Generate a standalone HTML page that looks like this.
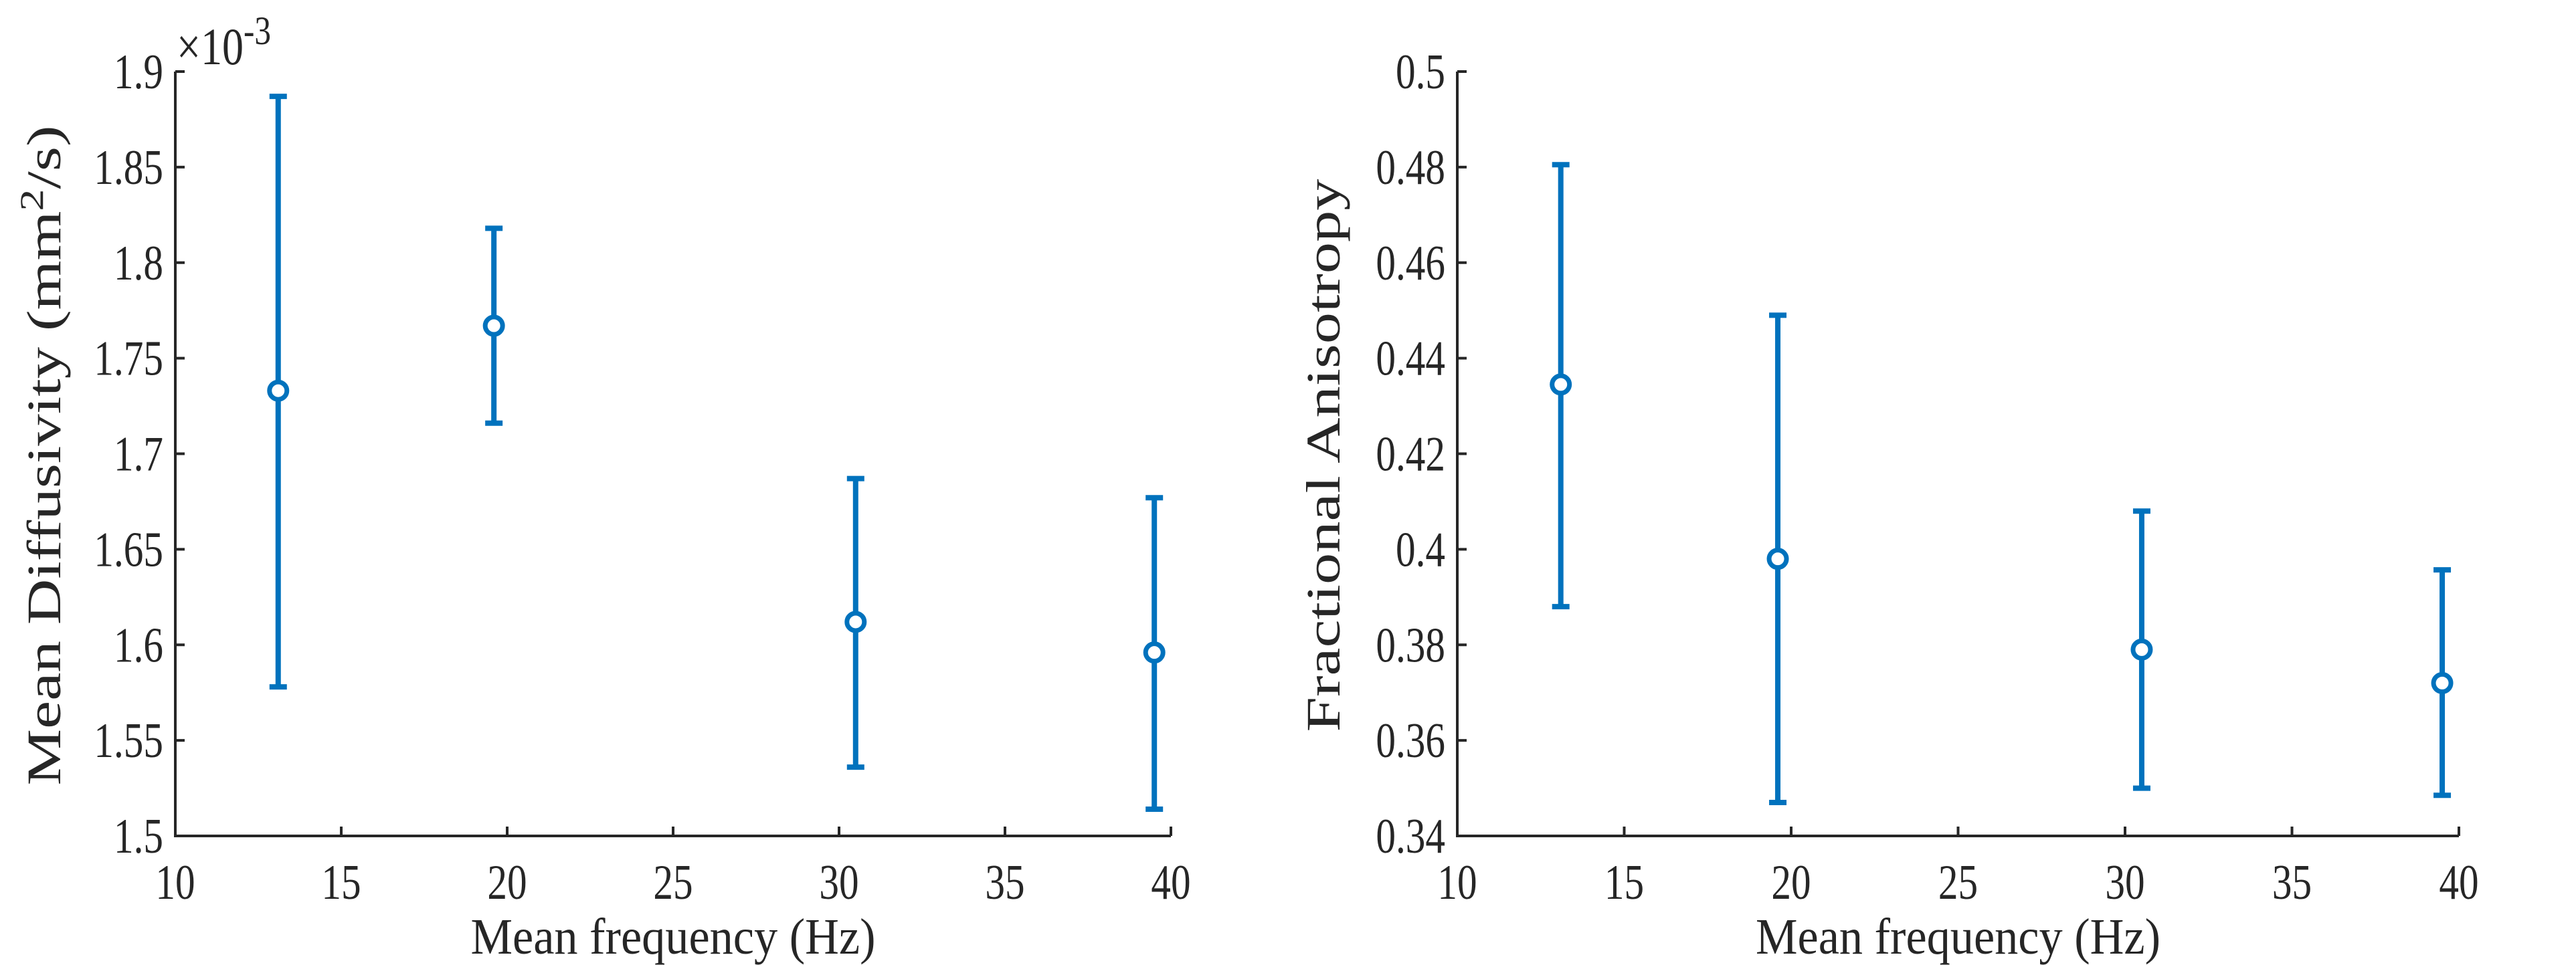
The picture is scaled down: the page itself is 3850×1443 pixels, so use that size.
<!DOCTYPE html>
<html><head><meta charset="utf-8"><style>
html,body{margin:0;padding:0;background:#fff;}
svg{display:block;font-family:"Liberation Serif",serif;}
</style></head><body>
<svg id="c" width="3850" height="1443" viewBox="0 0 3850 1443"></svg>
<script>
const freqs = [13.1, 19.6, 30.5, 39.5];
const mdMean = [1.733, 1.767, 1.612, 1.596];
const mdUpper = [1.887, 1.818, 1.687, 1.677];
const mdLower = [1.578, 1.716, 1.536, 1.514];
const faMean = [0.4345, 0.398, 0.379, 0.372];
const faUpper = [0.4805, 0.449, 0.408, 0.3957];
const faLower = [0.388, 0.347, 0.350, 0.3485];
const xTicks = [10, 15, 20, 25, 30, 35, 40];
const mdTicks = [1.5, 1.55, 1.6, 1.65, 1.7, 1.75, 1.8, 1.85, 1.9];
const mdTickLabels = ["1.5","1.55","1.6","1.65","1.7","1.75","1.8","1.85","1.9"];
const faTicks = [0.34, 0.36, 0.38, 0.4, 0.42, 0.44, 0.46, 0.48, 0.5];
const faTickLabels = ["0.34","0.36","0.38","0.4","0.42","0.44","0.46","0.48","0.5"];

const NS = "http://www.w3.org/2000/svg";
const svg = document.getElementById('c');
function mk(tag, attrs, parent){ const e=document.createElementNS(NS,tag); for(const k in attrs) e.setAttribute(k,attrs[k]); (parent||svg).appendChild(e); return e; }
const BLUE="#0072BD", AX="#262626";
const SX=0.8;

function panel(name, x0, x1, y0, y1, ymin, ymax, yT, yL, mean, up, lo, ylabel, ylabelX, ylabelLen){
  const g = mk('g',{});
  
  
  const sx = v => x0 + (v-10)/(40-10)*(x1-x0);
  const sy = v => y1 - (v-ymin)/(ymax-ymin)*(y1-y0);
  const ax = mk('path',{d:`M${x0},${y0} L${x0},${y1} L${x1},${y1}`, fill:'none', stroke:AX, 'stroke-width':4}, g);
  
  
  xTicks.forEach(t=>{
    mk('line',{x1:sx(t),x2:sx(t),y1:y1,y2:y1-14,stroke:AX,'stroke-width':4},g);
    const tx = mk('text',{x:0,y:0,'font-size':74,'text-anchor':'middle',fill:AX,transform:`translate(${sx(t)},1344) scale(${SX},1)`},g);
    tx.textContent = t;
    
    
  });
  yT.forEach((t,i)=>{
    mk('line',{x1:x0,x2:x0+14,y1:sy(t),y2:sy(t),stroke:AX,'stroke-width':4},g);
    const tx = mk('text',{x:0,y:0,'font-size':74,'text-anchor':'end',fill:AX,transform:`translate(${x0-18},${sy(t)+25}) scale(${SX},1)`},g);
    tx.textContent = yL[i];
    
    
  });
  freqs.forEach((f,i)=>{
    const x=sx(f);
    const eb = mk('g',{stroke:BLUE,'stroke-width':8,fill:'none'},g);
    
    
    mk('line',{x1:x,x2:x,y1:sy(up[i]),y2:sy(lo[i])},eb);
    mk('line',{x1:x-13,x2:x+13,y1:sy(up[i]),y2:sy(up[i])},eb);
    mk('line',{x1:x-13,x2:x+13,y1:sy(lo[i]),y2:sy(lo[i])},eb);
    const c = mk('circle',{cx:x,cy:sy(mean[i]),r:13,fill:'#fff',stroke:BLUE,'stroke-width':7},g);
    
    
  });
  const xl = mk('text',{x:(x0+x1)/2,y:1426,'font-size':76,'text-anchor':'middle',fill:AX,textLength:605,lengthAdjust:'spacingAndGlyphs'},g);
  xl.textContent='Mean frequency (Hz)';
  
  
  const yl = mk('text',{x:0,y:0,'font-size':72,'text-anchor':'middle',fill:AX,transform:`translate(${ylabelX},681) rotate(-90)`,textLength:ylabelLen,lengthAdjust:'spacingAndGlyphs'},g);
  yl.innerHTML = ylabel;
  
  
  return g;
}
panel('md-panel', 262, 1750, 107, 1250, 1.5, 1.9, mdTicks, mdTickLabels, mdMean, mdUpper, mdLower,
  'Mean Diffusivity (mm<tspan dy="-26" font-size="50">2</tspan><tspan dy="26">/s)</tspan>', 90, 987);
panel('fa-panel', 2178, 3675, 107, 1250, 0.34, 0.5, faTicks, faTickLabels, faMean, faUpper, faLower,
  'Fractional Anisotropy', 2002, 827);
const ex = mk('text',{x:0,y:0,'font-size':78,fill:AX,transform:'translate(264,96) scale(0.82,1)'});
ex.innerHTML = '×10<tspan dy="-30" font-size="60">-3</tspan>';


</script>
</body></html>
